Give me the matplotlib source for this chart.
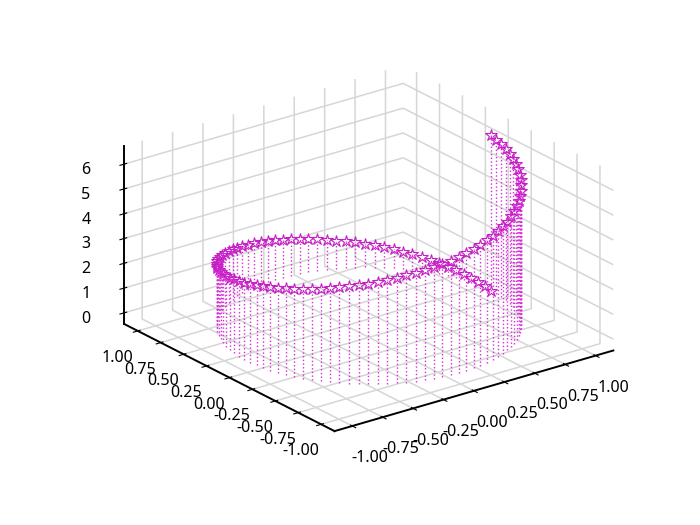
#!/usr/bin/env python3
# -*- coding: utf-8 -*-
"""3D stem plot of a helix, star markers on dotted stems"""

import matplotlib
matplotlib.use('Agg')
import matplotlib.pyplot as plt

plt.rcParams['font.family'] = ['Noto Sans', 'DejaVu Sans']

# values: first half of the turn
x_half = [1.000, .998, .992, .982, .968, .950, .928, .903, .874, .841,
          .805, .766, .724, .679, .631, .580, .527, .472, .415, .357,
          .297, .236, .174, .111, .048, -.016, -.079, -.142, -.205, -.266,
          -.327, -.386, -.444, -.500, -.554, -.605, -.655, -.701, -.745, -.786,
          -.824, -.858, -.889, -.916, -.940, -.960, -.975, -.987, -.995, -1.000]
y_half = [.000, .063, .127, .189, .251, .312, .372, .430, .486, .541,
          .593, .643, .690, .735, .776, .815, .850, .881, .910, .934,
          .955, .972, .985, .994, .999, 1.000, .997, .990, .979, .964,
          .945, .922, .896, .866, .833, .796, .756, .713, .667, .618,
          .567, .514, .458, .401, .342, .282, .220, .158, .095, .032]
# second half mirrors the first
x_vals = x_half + x_half[::-1]
y_vals = y_half + [-v for v in y_half[::-1]]
z_vals = [0, .06, .13, .19, .25, .32, .38, .44, .51, .57,
          .63, .70, .76, .83, .89, .95, 1.02, 1.08, 1.14, 1.21,
          1.27, 1.33, 1.40, 1.46, 1.52, 1.59, 1.65, 1.71, 1.78, 1.84,
          1.90, 1.97, 2.03, 2.09, 2.16, 2.22, 2.28, 2.35, 2.41, 2.47,
          2.54, 2.60, 2.67, 2.73, 2.79, 2.86, 2.92, 2.98, 3.05, 3.11,
          3.17, 3.24, 3.30, 3.36, 3.43, 3.49, 3.55, 3.62, 3.68, 3.74,
          3.81, 3.87, 3.93, 4.00, 4.06, 4.12, 4.19, 4.25, 4.32, 4.38,
          4.44, 4.51, 4.57, 4.63, 4.70, 4.76, 4.82, 4.89, 4.95, 5.01,
          5.08, 5.14, 5.20, 5.27, 5.33, 5.39, 5.46, 5.52, 5.58, 5.65,
          5.71, 5.77, 5.84, 5.90, 5.97, 6.03, 6.09, 6.16, 6.22, 6.28]

xy_ticks = [-1.00, -0.75, -0.50, -0.25, 0.00, 0.25, 0.50, 0.75, 1.00]
z_ticks = [0, 1, 2, 3, 4, 5, 6]

fig = plt.figure(figsize=(7, 5.25), dpi=100)
ax = fig.add_axes([0.129, 0.132, 0.775, 0.77], projection='3d', proj_type='ortho')
ax.view_init(elev=31, azim=-127)
ax.set_box_aspect((4, 4, 3.2), zoom=1.015)
# keep the 3D box stretched over the whole axes rectangle
ax.apply_aspect = lambda position=None: None

markerline, stemlines, baseline = ax.stem(x_vals, y_vals, z_vals,
                                          linefmt='m:', markerfmt='m*', basefmt=' ')
markerline.set_markerfacecolor('none')
markerline.set_markeredgecolor('#c41ec4')
markerline.set_markersize(9)
markerline.set_markeredgewidth(0.8)
stemlines.set_linewidth(1.0)
stemlines.set_color('#d92cd9')

ax.set_xticks(xy_ticks)
ax.set_yticks(xy_ticks)
ax.set_zticks(z_ticks)
ax.set_xticklabels([f'{v:.2f}' for v in xy_ticks])
ax.set_yticklabels([f'{v:.2f}' for v in xy_ticks])
ax.tick_params(labelsize=11.5)
ax.tick_params(axis='x', pad=7)
ax.tick_params(axis='y', pad=5)
ax.tick_params(axis='z', pad=6)

for axis in (ax.xaxis, ax.yaxis, ax.zaxis):
    axis.set_pane_color((1, 1, 1, 1))
    axis.pane.set_edgecolor('white')
    axis.line.set_linewidth(1.4)
    axis._axinfo['grid']['color'] = '#d6d6d6'
    axis._axinfo['grid']['linewidth'] = 1.1

fig.savefig('out.png', dpi=100)
